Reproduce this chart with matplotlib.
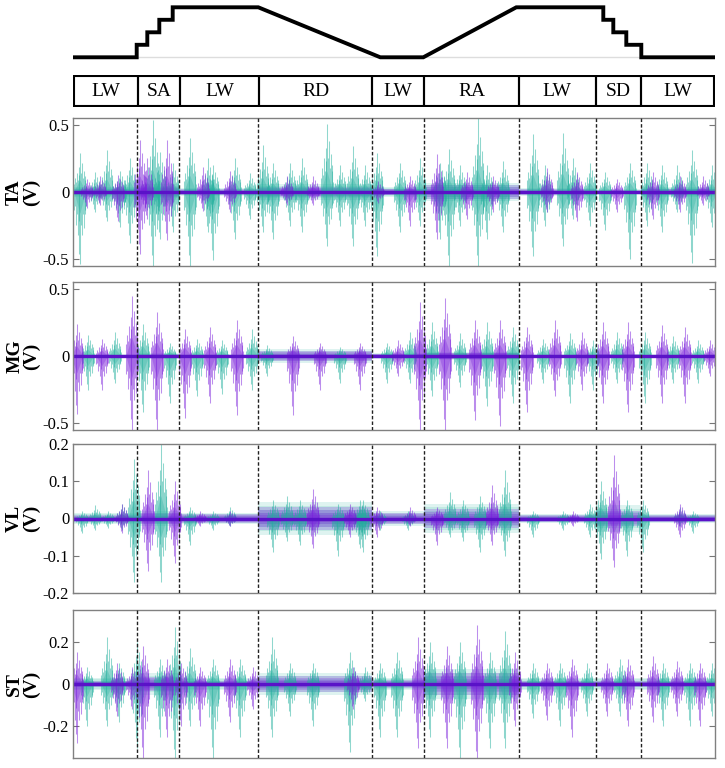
import numpy as np
import matplotlib.pyplot as plt

plt.rcParams['font.family'] = ['Liberation Serif', 'DejaVu Serif']
plt.rcParams['axes.unicode_minus'] = False

# phases of the walking course (time in s)
phase_names = ['LW', 'SA', 'LW', 'RD', 'LW', 'RA', 'LW', 'SD', 'LW']
phase_edges = [0, 6.4, 10.6, 18.5, 29.9, 35.1, 44.6, 52.3, 56.8, 64.2]

# terrain profile (time, height level)
terrain_t = [0, 6.34, 6.34, 7.4, 7.4, 8.6, 8.6, 9.94, 9.94, 18.5, 30.7, 35.0,
             44.3, 53.0, 53.0, 54.0, 54.0, 55.3, 55.3, 56.8, 56.8, 64.0]
terrain_lvl = [0, 0, 1, 1, 2, 2, 3, 3, 4, 4, 0, 0,
               4, 4, 3, 3, 2, 2, 1, 1, 0, 0]

muscles = ['TA', 'MG', 'VL', 'ST']
y_limits = [0.552, 0.552, 0.2, 0.349]
y_ticks = [[-0.5, 0, 0.5], [-0.5, 0, 0.5], [-0.2, -0.1, 0, 0.1, 0.2], [-0.2, 0, 0.2]]

# bursts: (time, positive peak, negative peak)
ta_teal = [(0.7, 0.29, -0.54), (2.2, 0.15, -0.15), (3.4, 0.31, -0.22), (4.7, 0.16, -0.26),
           (5.7, 0.25, -0.38), (8.0, 0.54, -0.55), (8.7, 0.30, -0.35), (10.0, 0.22, -0.30),
           (11.7, 0.40, -0.55), (13.5, 0.25, -0.30), (14.0, 0.20, -0.51), (16.2, 0.25, -0.35),
           (17.7, 0.14, -0.20), (19.0, 0.35, -0.30), (20.0, 0.22, -0.35), (21.7, 0.22, -0.25),
           (22.9, 0.25, -0.30), (25.4, 0.51, -0.40), (26.7, 0.20, -0.25), (28.0, 0.34, -0.40),
           (29.2, 0.20, -0.25), (30.4, 0.29, -0.48), (32.7, 0.22, -0.30), (34.7, 0.25, -0.25),
           (36.7, 0.22, -0.35), (37.6, 0.32, -0.55), (38.7, 0.20, -0.25), (40.5, 0.55, -0.55),
           (41.4, 0.20, -0.35), (43.0, 0.23, -0.30), (46.0, 0.43, -0.48), (47.2, 0.20, -0.25),
           (49.0, 0.44, -0.40), (50.0, 0.25, -0.20), (51.7, 0.22, -0.25), (53.2, 0.15, -0.28),
           (55.7, 0.22, -0.50), (57.4, 0.22, -0.25), (58.9, 0.20, -0.30), (60.4, 0.20, -0.15),
           (61.9, 0.31, -0.53), (63.9, 0.20, -0.26)]
ta_purple = [(1.4, 0.10, -0.12), (2.7, 0.12, -0.10), (4.5, 0.13, -0.22), (6.7, 0.39, -0.46),
             (7.4, 0.25, -0.20), (9.4, 0.39, -0.36), (13.0, 0.19, -0.14), (15.7, 0.16, -0.15),
             (21.4, 0.12, -0.10), (24.0, 0.12, -0.10), (30.5, 0.08, -0.08), (33.7, 0.12, -0.25),
             (36.4, 0.28, -0.35), (39.4, 0.15, -0.20), (42.0, 0.12, -0.15), (47.4, 0.18, -0.15),
             (50.4, 0.15, -0.22), (54.4, 0.10, -0.15), (58.0, 0.15, -0.20), (60.7, 0.12, -0.15),
             (63.0, 0.12, -0.10)]

mg_teal = [(1.5, 0.16, -0.25), (4.2, 0.18, -0.20), (7.0, 0.24, -0.42), (9.7, 0.10, -0.35),
           (12.4, 0.13, -0.30), (14.9, 0.12, -0.28), (17.9, 0.20, -0.25), (19.4, 0.08, -0.15),
           (26.7, 0.07, -0.20), (31.4, 0.10, -0.20), (33.7, 0.18, -0.20), (35.9, 0.25, -0.30),
           (38.7, 0.17, -0.23), (41.4, 0.25, -0.37), (44.0, 0.22, -0.35), (47.0, 0.13, -0.20),
           (49.7, 0.17, -0.35), (52.0, 0.12, -0.25), (54.4, 0.18, -0.20), (57.2, 0.18, -0.35),
           (60.0, 0.15, -0.20), (62.5, 0.12, -0.20)]
mg_purple = [(0.4, 0.24, -0.43), (2.9, 0.13, -0.25), (5.9, 0.45, -0.55), (8.4, 0.33, -0.55),
             (11.2, 0.20, -0.46), (13.7, 0.22, -0.35), (16.4, 0.27, -0.44), (22.0, 0.15, -0.44),
             (24.7, 0.10, -0.25), (28.7, 0.10, -0.25), (32.5, 0.12, -0.15), (34.7, 0.40, -0.55),
             (37.2, 0.43, -0.55), (40.2, 0.27, -0.48), (42.7, 0.27, -0.52), (45.4, 0.22, -0.42),
             (48.2, 0.27, -0.30), (50.9, 0.18, -0.25), (53.0, 0.25, -0.35), (55.5, 0.25, -0.42),
             (58.9, 0.23, -0.35), (61.2, 0.22, -0.35), (63.7, 0.12, -0.15)]

vl_teal = [(0.9, 0.02, -0.04), (2.2, 0.035, -0.03), (3.5, 0.02, -0.025), (4.9, 0.04, -0.03),
           (6.1, 0.16, -0.17), (8.8, 0.20, -0.17), (11.7, 0.03, -0.07), (14.0, 0.02, -0.03),
           (15.7, 0.03, -0.02), (20.0, 0.05, -0.09), (21.4, 0.06, -0.06), (22.7, 0.05, -0.07),
           (26.5, 0.04, -0.10), (28.7, 0.05, -0.08), (29.0, 0.05, -0.09), (30.7, 0.02, -0.03),
           (33.5, 0.02, -0.03), (37.7, 0.07, -0.05), (39.0, 0.05, -0.06), (40.7, 0.06, -0.09),
           (43.2, 0.13, -0.10), (46.0, 0.02, -0.05), (49.0, 0.02, -0.03), (51.7, 0.04, -0.05),
           (52.8, 0.10, -0.11), (55.4, 0.05, -0.10), (57.0, 0.05, -0.09), (60.7, 0.03, -0.02),
           (62.0, 0.02, -0.04)]
vl_purple = [(4.9, 0.04, -0.04), (7.5, 0.13, -0.14), (10.2, 0.10, -0.12), (12.7, 0.02, -0.02),
             (15.7, 0.02, -0.02), (24.0, 0.08, -0.08), (27.7, 0.04, -0.05), (30.4, 0.03, -0.05),
             (33.7, 0.03, -0.02), (36.4, 0.03, -0.07), (41.9, 0.09, -0.07), (50.0, 0.02, -0.02),
             (54.1, 0.17, -0.13), (60.7, 0.04, -0.05)]

st_teal = [(1.4, 0.08, -0.20), (3.4, 0.22, -0.20), (4.6, 0.10, -0.18), (6.4, 0.20, -0.30),
           (8.7, 0.12, -0.25), (10.2, 0.27, -0.36), (11.7, 0.17, -0.20), (14.0, 0.12, -0.35),
           (16.7, 0.12, -0.25), (19.9, 0.22, -0.25), (21.7, 0.10, -0.15), (24.0, 0.10, -0.20),
           (27.7, 0.15, -0.32), (29.2, 0.08, -0.08), (30.7, 0.10, -0.25), (32.4, 0.15, -0.25),
           (35.7, 0.20, -0.25), (38.7, 0.20, -0.35), (41.7, 0.15, -0.30), (43.2, 0.25, -0.30),
           (46.0, 0.10, -0.16), (48.7, 0.10, -0.20), (51.4, 0.10, -0.15), (54.7, 0.12, -0.15),
           (59.0, 0.10, -0.20), (61.7, 0.10, -0.20), (63.9, 0.10, -0.15)]
st_purple = [(0.4, 0.15, -0.28), (4.4, 0.10, -0.15), (5.9, 0.08, -0.12), (7.0, 0.18, -0.35),
             (9.4, 0.12, -0.25), (10.8, 0.10, -0.20), (12.7, 0.08, -0.20), (15.7, 0.12, -0.18),
             (18.0, 0.08, -0.12), (28.0, 0.08, -0.12), (34.5, 0.22, -0.30), (37.4, 0.18, -0.30),
             (40.4, 0.28, -0.37), (44.2, 0.15, -0.20), (47.4, 0.10, -0.17), (49.9, 0.12, -0.25),
             (53.4, 0.10, -0.15), (55.5, 0.12, -0.20), (58.0, 0.13, -0.18), (60.4, 0.11, -0.15),
             (62.7, 0.10, -0.20)]

# background activity amplitude per phase
ta_band_teal = [0.04, 0.06, 0.03, 0.06, 0.04, 0.07, 0.03, 0.02, 0.04]
ta_band_purple = [0.02, 0.04, 0.02, 0.04, 0.025, 0.05, 0.02, 0.012, 0.025]
mg_band_teal = [0.012, 0.02, 0.012, 0.05, 0.02, 0.03, 0.012, 0.015, 0.012]
mg_band_purple = [0.008, 0.012, 0.008, 0.035, 0.015, 0.025, 0.008, 0.012, 0.008]
vl_band_teal = [0.015, 0.02, 0.015, 0.045, 0.02, 0.04, 0.012, 0.035, 0.012]
vl_band_purple = [0.01, 0.015, 0.012, 0.03, 0.015, 0.025, 0.01, 0.02, 0.01]
st_band_teal = [0.03, 0.05, 0.03, 0.05, 0.03, 0.07, 0.03, 0.03, 0.03]
st_band_purple = [0.015, 0.035, 0.015, 0.04, 0.02, 0.05, 0.015, 0.015, 0.015]

teal_bursts = [ta_teal, mg_teal, vl_teal, st_teal]
purple_bursts = [ta_purple, mg_purple, vl_purple, st_purple]
teal_bands = [ta_band_teal, mg_band_teal, vl_band_teal, st_band_teal]
purple_bands = [ta_band_purple, mg_band_purple, vl_band_purple, st_band_purple]

TEAL = '#22b09e'
PURPLE = '#7a1fdc'
CORE = '#5a12c8'

# glyph used to draw one burst: a cluster of spikes
spike_off = np.linspace(-1, 1, 15)
spike_up = np.array([0.2, 0.35, 0.25, 0.5, 0.3, 0.65, 0.45, 1.0, 0.5, 0.75, 0.35, 0.55, 0.3, 0.4, 0.15])
spike_dn = np.array([0.25, 0.2, 0.45, 0.3, 0.6, 0.4, 0.85, 1.0, 0.45, 0.6, 0.3, 0.5, 0.25, 0.3, 0.2])
burst_half = 0.6


def draw_bursts(ax, bursts, color, alpha):
    for t, up, dn in bursts:
        ax.vlines(t + spike_off * burst_half, dn * spike_dn, up * spike_up,
                  color=color, alpha=alpha, lw=0.75)
        ax.fill([t - burst_half, t, t + burst_half, t],
                [0, up * 0.3, 0, dn * 0.3], color=color, alpha=alpha * 0.6, lw=0)


def draw_band(ax, amps, color, alpha):
    for i, a in enumerate(amps):
        x = [phase_edges[i], phase_edges[i + 1]]
        for k in [1.0, 0.75, 0.5, 0.3]:
            ax.fill_between(x, -a * k, a * k, color=color, alpha=alpha, lw=0)


fig = plt.figure(figsize=(7.25, 7.68), dpi=100)
left, width = 73.3 / 725, 642 / 725
xmax = phase_edges[-1]

# terrain profile
ax0 = fig.add_axes([left, 1 - 62 / 768, width, 60 / 768])
ax0.plot([phase_edges[1], phase_edges[-2]], [0, 0], color='#dddddd', lw=1)
ax0.plot(terrain_t, terrain_lvl, color='black', lw=2.8, solid_joinstyle='miter')
ax0.set_xlim(0, xmax)
ax0.set_ylim(-0.376, 4.424)
ax0.axis('off')

# phase boxes
ax1 = fig.add_axes([left, 1 - 107 / 768, width, 32 / 768])
for i, name in enumerate(phase_names):
    a, b = phase_edges[i], phase_edges[i + 1]
    ax1.bar((a + b) / 2, 1, width=b - a, bottom=0, fill=False, edgecolor='black', lw=1.5)
    ax1.text((a + b) / 2, 0.5, name, ha='center', va='center', fontsize=14)
ax1.set_xlim(-0.1, xmax + 0.1)
ax1.set_ylim(-0.03, 1.03)
ax1.axis('off')

panel_px = [(118, 266), (282, 430), (444, 593), (610, 758)]
for i, m in enumerate(muscles):
    top, bot = panel_px[i]
    ax = fig.add_axes([left, 1 - bot / 768, width, (bot - top) / 768])
    draw_band(ax, teal_bands[i], TEAL, 0.15)
    draw_band(ax, purple_bands[i], PURPLE, 0.22)
    draw_bursts(ax, teal_bursts[i], TEAL, 0.5)
    draw_bursts(ax, purple_bursts[i], PURPLE, 0.5)
    ax.plot([0, xmax], [0, 0], color=CORE, lw=2.4)
    for e in phase_edges[1:-1]:
        ax.axvline(e, color='#222222', lw=1, ls=(0, (2.5, 1.5)), zorder=5)
    ax.set_xlim(0, xmax)
    ax.set_ylim(-y_limits[i], y_limits[i])
    ax.set_yticks(y_ticks[i])
    ax.set_yticklabels([('%g' % v) for v in y_ticks[i]])
    ax.set_xticks([])
    ax.tick_params(axis='y', direction='in', length=4, color='#777777',
                   right=True, labelsize=12, pad=3)
    for s in ax.spines.values():
        s.set_color('#808080')
        s.set_linewidth(1)
    ax.text(-50 / 642, 0.5, m + '\n(V)', transform=ax.transAxes, rotation=90,
            ha='center', va='center', fontsize=14, fontweight='bold', linespacing=1.0)

fig.savefig('out.png', dpi=100)
